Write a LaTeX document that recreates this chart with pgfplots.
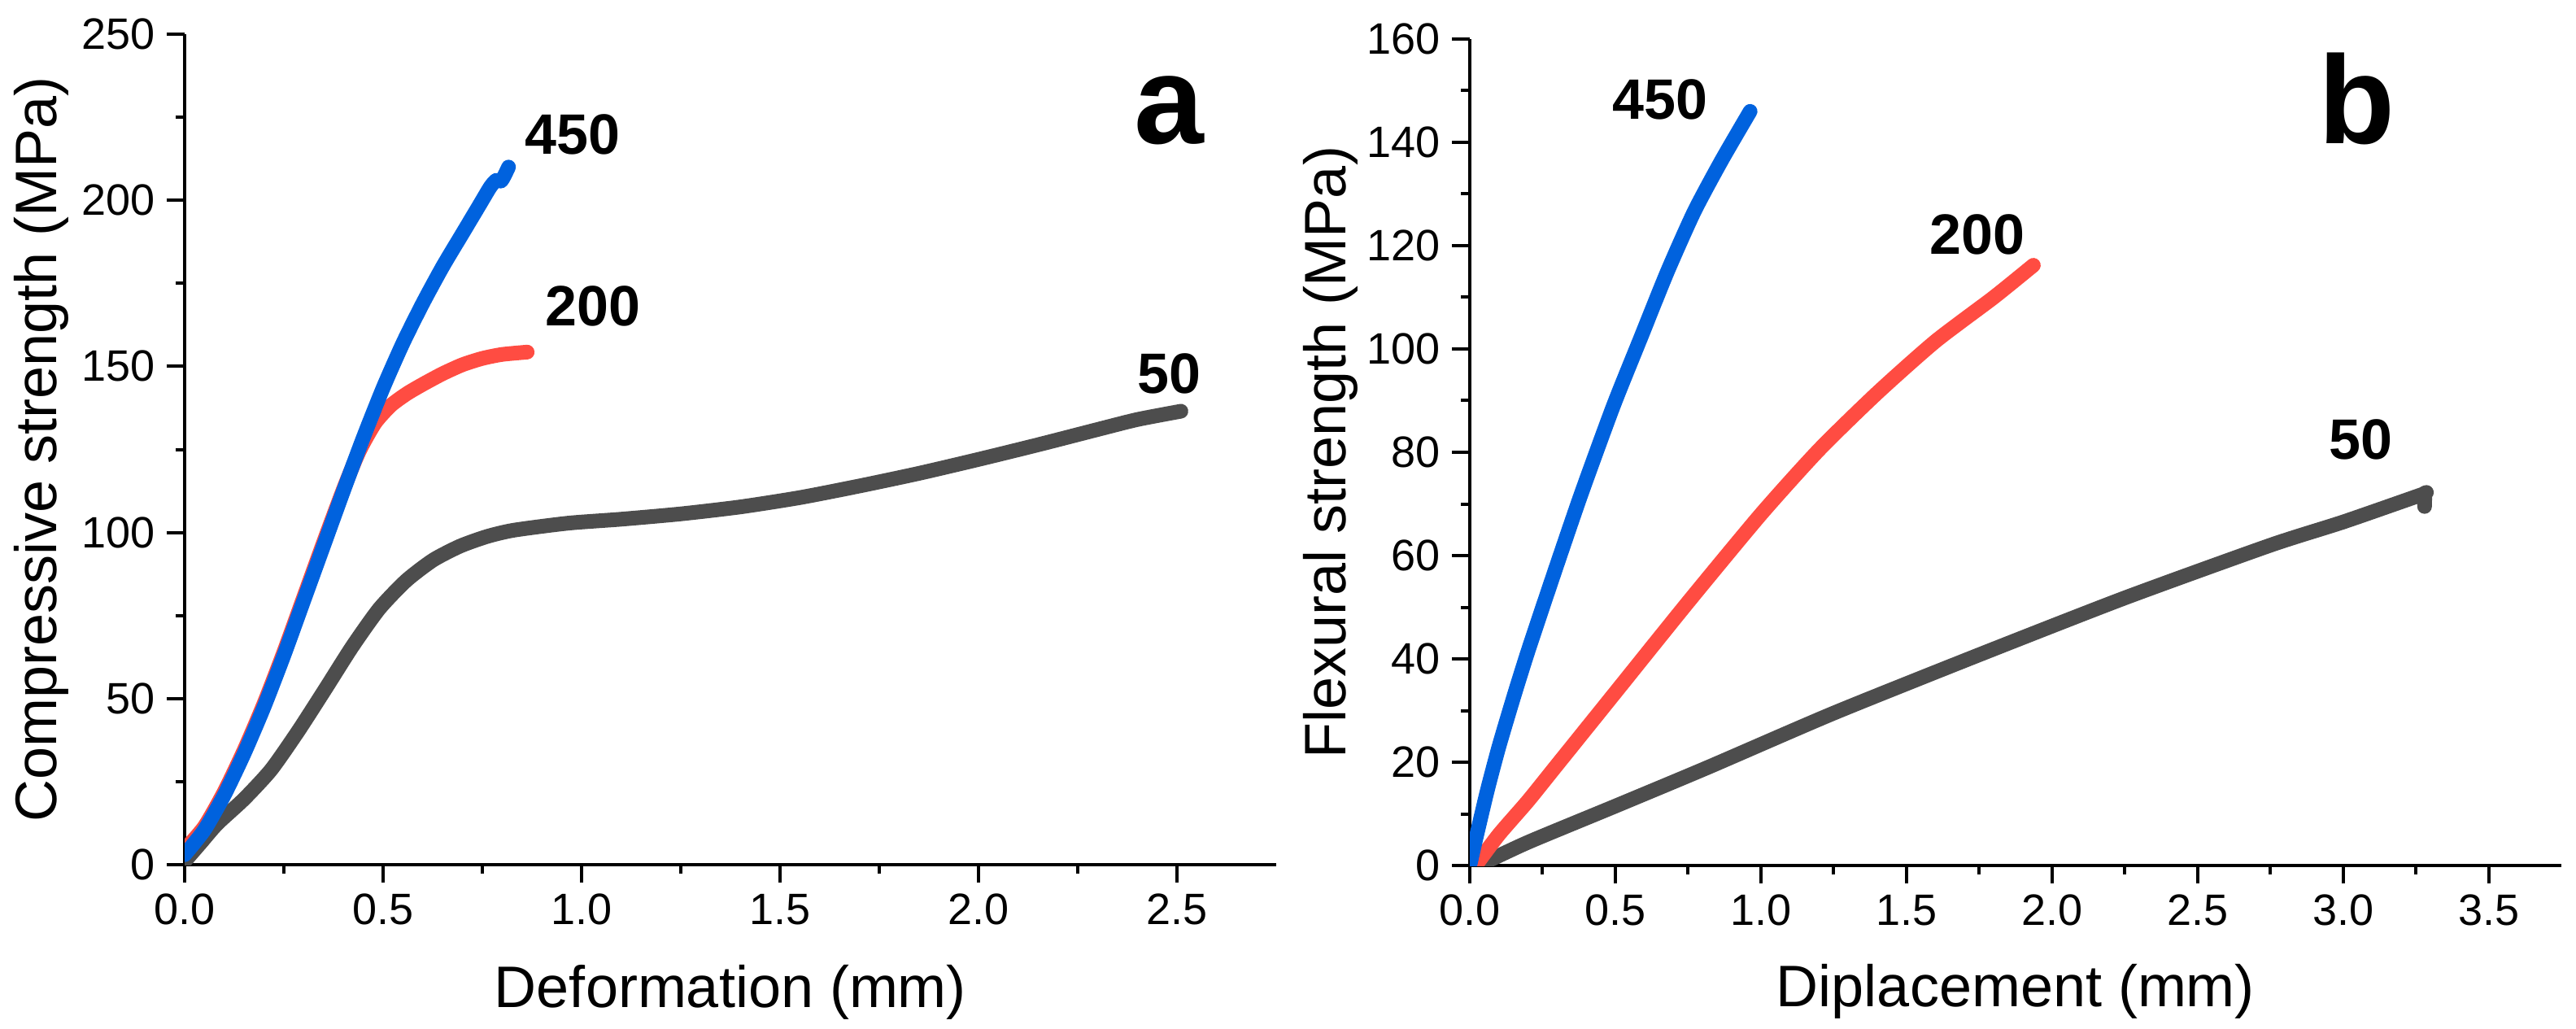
\documentclass[border=0pt]{standalone}
\usepackage{fontspec}
\setmainfont{Liberation Sans}
\usepackage{pgfplots}
\pgfplotsset{compat=1.18}
\definecolor{cblue}{RGB}{0,98,222}
\definecolor{cred}{RGB}{255,76,66}
\definecolor{cgray}{RGB}{77,77,77}
\pgfplotsset{
  myaxis/.style={
    scale only axis,
    axis x line*=bottom, axis y line*=left,
    xmin=0, ymin=0,
    tick align=outside,
    major tick length=5.5pt, minor tick length=2.75pt,
    every tick/.style={line width=1pt, black},
    axis line style={line width=1pt, black},
    minor x tick num=1, minor y tick num=1,
    ticklabel style={font=\fontsize{13.5}{16}\selectfont},
    /pgf/number format/assume math mode=true,
    xticklabel style={/pgf/number format/.cd, fixed, fixed zerofill, precision=1},
    yticklabel style={/pgf/number format/.cd, fixed, precision=0},
    clip mode=individual,
    every axis plot/.append style={line width=4.5pt, line cap=round, line join=round, no markers, smooth, tension=0.4},
  },
}
\tikzset{
  curvelab/.style={font=\bfseries\fontsize{17.5}{20}\selectfont, anchor=base, inner sep=0pt},
  panellab/.style={font=\bfseries\fontsize{38.5}{44}\selectfont, anchor=base, inner sep=0pt},
}
\begin{document}
\begin{tikzpicture}
\useasboundingbox (0,0) rectangle (791.75pt,316pt);
% ---------------- panel a ----------------
\begin{axis}[myaxis,
  at={(56.75pt,50.25pt)}, anchor=south west,
  width=335.5pt, height=255.25pt,
  xmax=2.75, ymax=250,
  xtick={0,0.5,...,2.5}, ytick={0,50,...,250},
  every axis x label/.style={at={(axis description cs:0.5,-0.1714)}, anchor=base, font=\fontsize{18}{21}\selectfont},
  every axis y label/.style={at={(axis description cs:-0.117,0.5)}, anchor=base, rotate=90, font=\fontsize{18}{21}\selectfont},
  xlabel={Deformation (mm)}, ylabel={Compressive strength (MPa)},
]
\addplot[cgray] coordinates {
(0,1) (0.04,6.5) (0.082,12.3) (0.15,19.8) (0.218,28.6) (0.286,40.2) (0.354,52.8)
(0.422,65.6) (0.49,77) (0.558,85.5) (0.626,91.7) (0.694,95.9) (0.762,98.8)
(0.83,100.7) (0.966,102.8) (1.1,104) (1.25,105.6) (1.4,107.7) (1.55,110.5)
(1.7,114) (1.85,117.8) (2.0,122) (2.15,126.4) (2.3,131) (2.4,134) (2.51,136.5)};
\addplot[cred] coordinates {
(0,4.5) (0.05,11.5) (0.1,22) (0.15,34.5) (0.2,48.5) (0.25,64) (0.3,80.5)
(0.35,97) (0.4,113) (0.44,124.5) (0.48,133) (0.52,138.3) (0.56,141.8)
(0.6,144.6) (0.65,147.8) (0.7,150.5) (0.75,152.4) (0.8,153.6) (0.863,154.3)};
\addplot[cblue] coordinates {
(0,3) (0.05,10.5) (0.1,21) (0.15,33.5) (0.2,47.5) (0.25,63) (0.3,79.5) (0.35,96)
(0.4,112.5) (0.45,128.5) (0.5,143.5) (0.55,157) (0.6,169) (0.65,180) (0.7,190)
(0.74,198) (0.77,204) (0.785,206) (0.797,205.8) (0.806,207.5) (0.816,210)};
\node[curvelab] at (axis cs:0.977,213.8) {450};
\node[curvelab] at (axis cs:1.028,162.3) {200};
\node[curvelab] at (axis cs:2.48,142) {50};
\node[panellab] at (axis cs:2.48,217) {a};
\end{axis}
% ---------------- panel b ----------------
\begin{axis}[myaxis,
  at={(451.75pt,50pt)}, anchor=south west,
  width=335.5pt, height=254pt,
  xmax=3.75, ymax=160,
  xtick={0,0.5,...,3.5}, ytick={0,20,...,160},
  every axis x label/.style={at={(axis description cs:0.5,-0.1703)}, anchor=base, font=\fontsize{18}{21}\selectfont},
  every axis y label/.style={at={(axis description cs:-0.1133,0.5)}, anchor=base, rotate=90, font=\fontsize{18}{21}\selectfont},
  xlabel={Diplacement (mm)}, ylabel={Flexural strength (MPa)},
]
\addplot[cgray] coordinates {
(0.03,0) (0.2,4.5) (0.5,11.5) (0.818,19) (1.25,29.5) (1.75,40.8) (2.25,51.8)
(2.75,62) (3.0,66.5) (3.27,71.8) (3.28,72) (3.28,69.5)};
\addplot[cred] coordinates {
(0.02,0) (0.1,6) (0.2,12.5) (0.3,19.5) (0.5,33.5) (0.75,51) (1.0,68) (1.2,80.5)
(1.4,91.5) (1.6,101.5) (1.8,110) (1.936,116.2)};
\addplot[cblue] coordinates {
(0,0) (0.02,5) (0.06,14.5) (0.1,23) (0.15,32.5) (0.2,41.5) (0.28,55) (0.38,71.5)
(0.492,88.8) (0.586,102) (0.679,115) (0.771,126.6) (0.865,136.5) (0.963,146)};
\node[curvelab] at (axis cs:0.654,144.5) {450};
\node[curvelab] at (axis cs:1.743,118.3) {200};
\node[curvelab] at (axis cs:3.06,78.6) {50};
\node[panellab] at (axis cs:3.046,139.7) {b};
\end{axis}
\end{tikzpicture}
\end{document}
